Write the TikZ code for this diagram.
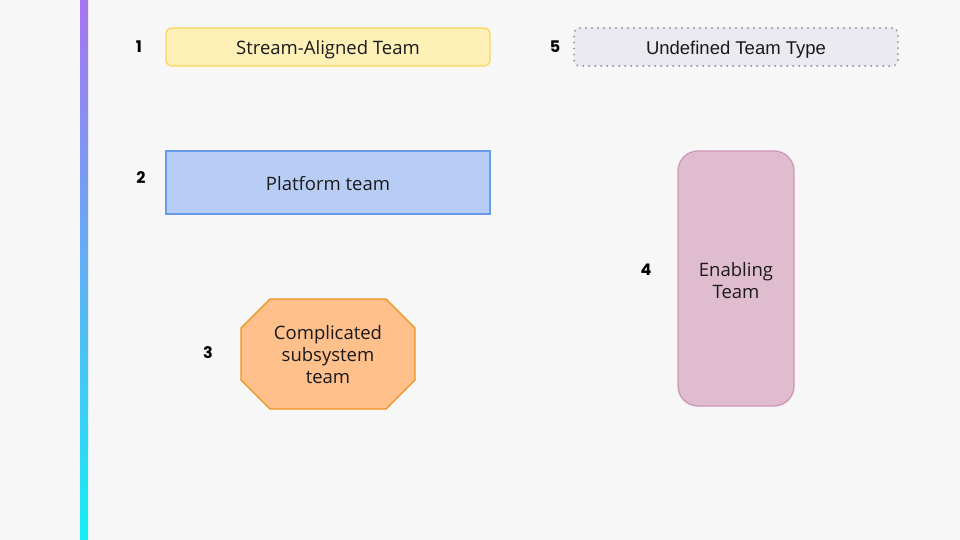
\documentclass[tikz,border=0pt]{standalone}
\usepackage{fontspec}
\setmainfont{Open Sans}
\newfontfamily\numfont{Poppins}
\newfontfamily\arialfont{Liberation Sans}
\definecolor{bg}{HTML}{F7F7F7}
\definecolor{txt}{HTML}{1A1A1A}
\definecolor{saFill}{HTML}{FFF0B8}
\definecolor{saLine}{HTML}{FCD55A}
\definecolor{unFill}{HTML}{EBEAF0}
\definecolor{unLine}{HTML}{9696AA}
\definecolor{plFill}{HTML}{B8CDF5}
\definecolor{plLine}{HTML}{6A9AE8}
\definecolor{csFill}{HTML}{FFC08C}
\definecolor{csLine}{HTML}{F0901C}
\definecolor{enFill}{HTML}{E0BCCF}
\definecolor{enLine}{HTML}{D097B8}
\definecolor{barTop}{HTML}{A874F0}
\definecolor{barMid}{HTML}{5AAEF2}
\definecolor{barBot}{HTML}{18ECF5}
\tikzset{
  numlabel/.style={font=\numfont\bfseries\fontsize{16}{18}\selectfont, text=black, inner sep=0pt},
  teamtext/.style={font=\fontsize{18.5}{22}\selectfont, text=txt, align=center},
  teambox/.style={draw, line width=1.3pt, minimum height=38pt, minimum width=324pt, teamtext,
    text height=17pt, text depth=1pt}
}
\begin{document}
\begin{tikzpicture}[x=1pt,y=-1pt]
\fill[bg] (0,0) rectangle (960,540);
\useasboundingbox (0,0) rectangle (960,540);
\shade[top color=barTop, middle color=barMid, bottom color=barBot] (80,0) rectangle (88,540);

\node[teambox, fill=saFill, draw=saLine, rounded corners=6pt] (sa) at (328,47) {Stream-Aligned Team};
\node[teambox, fill=unFill, draw=unLine, line width=2.2pt, line cap=round, dash pattern=on 0pt off 6pt, rounded corners=6pt, font=\arialfont\fontsize{18.5}{22}\selectfont] (un) at (736,47) {Undefined Team Type};
\node[teambox, fill=plFill, draw=plLine, minimum height=63pt] (pl) at (328,182.5) {Platform team};
\node[draw, line width=1.3pt, fill=enFill, draw=enLine, minimum width=116pt, minimum height=255pt, rounded corners=20pt] (en) at (736,278.5) {};
\node[teamtext] (enT) at (736,280.5) {Enabling\\Team};

\filldraw[fill=csFill, draw=csLine, line width=1.3pt]
  (270,299) -- (386,299) -- (415,328) -- (415,380) -- (386,409) -- (270,409) -- (241,380) -- (241,328) -- cycle;
\node[teamtext] (cs) at (328,354.5) {Complicated\\subsystem\\team};

\node[numlabel] (n1) at (139,47) {1};
\node[numlabel] (n2) at (141,178) {2};
\node[numlabel] (n3) at (208,353) {3};
\node[numlabel] (n4) at (646,270) {4};
\node[numlabel] (n5) at (555,47) {5};
\end{tikzpicture}
\end{document}
